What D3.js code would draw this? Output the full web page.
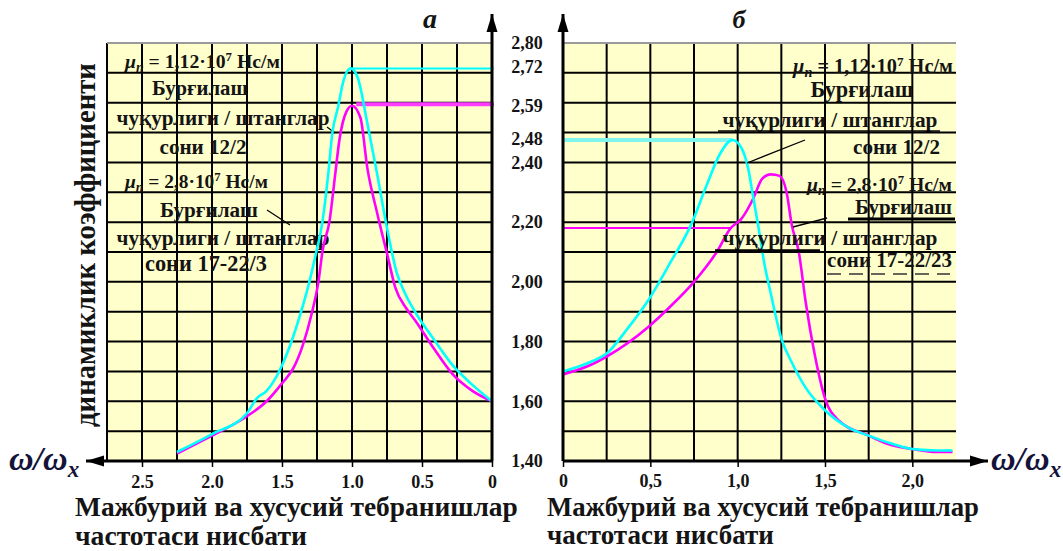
<!DOCTYPE html>
<html>
<head>
<meta charset="utf-8">
<script src="https://cdn.jsdelivr.net/npm/d3@7"></script>
<style>
  body { margin: 0; background: #fff; }
  svg text { font-family: "Liberation Serif", "Times New Roman", serif; font-weight: bold; fill: #141414; }
</style>
</head>
<body>
<svg id="chart" width="1063" height="551"></svg>
<script>
// ---- data ----
// panel a (left): frequency ratio runs 2.25 -> 0
const leftCyanRatio = [2.25, 2.0, 1.75, 1.68, 1.61, 1.51, 1.44, 1.37, 1.31, 1.26, 1.21, 1.17, 1.14, 1.10, 1.06, 1.01, 0.96, 0.89, 0.82, 0.75, 0.68, 0.62, 0.53, 0.45, 0.39, 0.28, 0.14, 0]
const leftCyanK     = [1.43, 1.49, 1.56, 1.61, 1.635, 1.71, 1.79, 1.89, 1.99, 2.09, 2.205, 2.36, 2.50, 2.585, 2.675, 2.715, 2.685, 2.53, 2.36, 2.18, 2.03, 1.96, 1.885, 1.83, 1.79, 1.72, 1.655, 1.60]
const leftMagRatio  = [2.25, 2.0, 1.75, 1.61, 1.50, 1.42, 1.35, 1.29, 1.24, 1.21, 1.16, 1.12, 1.09, 1.04, 1.0, 0.94, 0.89, 0.82, 0.75, 0.69, 0.61, 0.54, 0.42, 0.28, 0.14, 0]
const leftMagK      = [1.425, 1.485, 1.55, 1.60, 1.66, 1.71, 1.79, 1.89, 2.00, 2.105, 2.205, 2.36, 2.475, 2.57, 2.59, 2.55, 2.38, 2.23, 2.095, 1.98, 1.91, 1.865, 1.78, 1.69, 1.635, 1.60]
const leftPeaks     = [{ k: 2.715, from: 1.0, color: '#00ffff', w: 2 }, { k: 2.595, from: 0.97, color: '#ff3cff', w: 4 }]

// panel б (right): frequency ratio runs 0 -> 2.23
const rightCyanRatio = [0, 0.17, 0.25, 0.365, 0.49, 0.61, 0.74, 0.82, 0.90, 0.97, 1.02, 1.06, 1.09, 1.12, 1.15, 1.19, 1.25, 1.31, 1.39, 1.50, 1.64, 1.75, 1.87, 2.0, 2.15, 2.23]
const rightCyanK     = [1.70, 1.735, 1.76, 1.84, 1.94, 2.06, 2.20, 2.32, 2.43, 2.475, 2.45, 2.38, 2.28, 2.18, 2.07, 1.96, 1.81, 1.73, 1.645, 1.57, 1.51, 1.485, 1.46, 1.44, 1.435, 1.435]
const rightMagRatio  = [0, 0.17, 0.25, 0.49, 0.61, 0.75, 0.88, 0.96, 1.02, 1.09, 1.14, 1.19, 1.24, 1.28, 1.31, 1.35, 1.39, 1.44, 1.50, 1.58, 1.75, 1.87, 2.0, 2.14, 2.23]
const rightMagK      = [1.69, 1.725, 1.75, 1.85, 1.915, 2.00, 2.10, 2.18, 2.21, 2.28, 2.345, 2.36, 2.355, 2.30, 2.19, 2.10, 1.93, 1.76, 1.61, 1.535, 1.485, 1.455, 1.44, 1.43, 1.43]
const rightPeaks     = [{ k: 2.475, to: 0.97, color: '#7ff5ee', w: 4 }, { k: 2.18, to: 0.96, color: '#ff00ff', w: 2 }]

const yTicks = [1.40, 1.60, 1.80, 2.00, 2.20, 2.40, 2.48, 2.59, 2.72, 2.80]
const leftTicks = [2.5, 2.0, 1.5, 1.0, 0.5, 0]
const rightTicks = [0, 0.5, 1.0, 1.5, 2.0]

const svg = d3.select('#chart')
const yTop = 43, yBot = 461
const y = d3.scaleLinear().domain([1.4, 2.8]).range([yBot, yTop])
const xL = d3.scaleLinear().domain([2.75, 0]).range([107, 492])
const xR = d3.scaleLinear().domain([0, 2.25]).range([563, 956])
const rows = d3.range(1, 14).map(i => 1.4 + i * 0.1)

// scale font so the text spans the wanted width
function fit (sel, width) {
  const len = sel.node().getComputedTextLength()
  const fs = parseFloat(sel.attr('font-size'))
  sel.attr('font-size', fs * width / len)
  return sel
}

function muText (g, x, yy, value, anchor, width) {
  const t = g.append('text').attr('x', x).attr('y', yy).attr('font-size', 19).attr('text-anchor', anchor)
  t.append('tspan').attr('font-style', 'italic').text('μ')
  t.append('tspan').attr('dy', 4).attr('font-size', '0.7em').attr('font-style', 'italic').text('п')
  t.append('tspan').attr('dy', -4).text(' = ' + value + '·10')
  t.append('tspan').attr('dy', -7).attr('font-size', '0.65em').text('7')
  t.append('tspan').attr('dy', 7).text(' Нс/м')
  fit(t, width)
}

function label (g, x, yy, str, anchor, width, size) {
  const t = g.append('text').attr('x', x).attr('y', yy).attr('font-size', size || 21)
    .attr('text-anchor', anchor).text(str)
  if (width) fit(t, width)
  return t
}

function arrow (x1, y1, x2, y2) {
  svg.append('line').attr('x1', x1).attr('y1', y1).attr('x2', x2).attr('y2', y2)
    .attr('stroke', '#000').attr('stroke-width', 3)
  const a = Math.atan2(y2 - y1, x2 - x1)
  const L = 18, hw = 5.5
  const bx = x2 - L * Math.cos(a), by = y2 - L * Math.sin(a)
  svg.append('path')
    .attr('d', `M${x2},${y2}L${bx - hw * Math.sin(a)},${by + hw * Math.cos(a)}L${bx + hw * Math.sin(a)},${by - hw * Math.cos(a)}Z`)
    .attr('fill', '#000')
}

const line = x => d3.line().x(d => x(d[0])).y(d => y(d[1])).curve(d3.curveMonotoneX)

// ---------- panel a ----------
const gl = svg.append('g')
gl.append('rect').attr('x', xL(2.75)).attr('y', yTop).attr('width', xL(0) - xL(2.75)).attr('height', yBot - yTop).attr('fill', '#ffffcc')
gl.selectAll('.vg').data(d3.range(0, 2.76, 0.25)).enter().append('line')
  .attr('x1', d => xL(d)).attr('x2', d => xL(d)).attr('y1', yTop).attr('y2', yBot)
  .attr('stroke', '#000').attr('stroke-width', 2)
gl.selectAll('.hg').data(rows).enter().append('line')
  .attr('x1', xL(2.75)).attr('x2', xL(0)).attr('y1', d => y(d)).attr('y2', d => y(d))
  .attr('stroke', '#000').attr('stroke-width', 2)
gl.append('line').attr('x1', xL(2.75)).attr('x2', xL(0)).attr('y1', yTop).attr('y2', yTop).attr('stroke', '#9a9a9a').attr('stroke-width', 2)

// annotations of panel a
muText(gl, 125, 68, '1,12', 'start', 155)
label(gl, 200, 95, 'Бурғилаш', 'middle', 96)
label(gl, 223, 125, 'чуқурлиги / штанглар', 'middle', 213)
label(gl, 203, 154, 'сони 12/2', 'middle', 87)
muText(gl, 125, 188, '2,8', 'start', 143)
label(gl, 209, 217, 'Бурғилаш', 'middle', 98)
label(gl, 223, 245, 'чуқурлиги / штанглар', 'middle', 213)
label(gl, 206, 271, 'сони 17-22/3', 'middle', 122)
gl.append('path').attr('d', 'M327,127L335,133').attr('stroke', '#000').attr('stroke-width', 1.2)
gl.append('path').attr('d', 'M267,210L290,225').attr('stroke', '#000').attr('stroke-width', 1.2)

leftPeaks.forEach(p => {
  gl.append('line').attr('x1', xL(p.from)).attr('x2', xL(0) + 2).attr('y1', y(p.k)).attr('y2', y(p.k))
    .attr('stroke', p.color).attr('stroke-width', p.w)
})
gl.append('path').datum(d3.zip(leftMagRatio, leftMagK)).attr('d', line(xL))
  .attr('fill', 'none').attr('stroke', '#ff00ff').attr('stroke-width', 2.6)
gl.append('path').datum(d3.zip(leftCyanRatio, leftCyanK)).attr('d', line(xL))
  .attr('fill', 'none').attr('stroke', '#00ffff').attr('stroke-width', 2.6)

// ---------- panel б ----------
const gr = svg.append('g')
gr.append('rect').attr('x', xR(0)).attr('y', yTop).attr('width', xR(2.25) - xR(0)).attr('height', yBot - yTop).attr('fill', '#ffffcc')
gr.selectAll('.vg').data(d3.range(0, 2.01, 0.25)).enter().append('line')
  .attr('x1', d => xR(d)).attr('x2', d => xR(d)).attr('y1', yTop).attr('y2', yBot)
  .attr('stroke', '#000').attr('stroke-width', 2)
gr.selectAll('.hg').data(rows).enter().append('line')
  .attr('x1', xR(0)).attr('x2', xR(2.25)).attr('y1', d => y(d)).attr('y2', d => y(d))
  .attr('stroke', '#000').attr('stroke-width', 2)
gr.append('line').attr('x1', xR(0)).attr('x2', xR(2.25)).attr('y1', yTop).attr('y2', yTop).attr('stroke', '#9a9a9a').attr('stroke-width', 2)

rightPeaks.forEach(p => {
  gr.append('line').attr('x1', xR(0)).attr('x2', xR(p.to)).attr('y1', y(p.k)).attr('y2', y(p.k))
    .attr('stroke', p.color).attr('stroke-width', p.w)
})
gr.append('path').datum(d3.zip(rightMagRatio, rightMagK)).attr('d', line(xR))
  .attr('fill', 'none').attr('stroke', '#ff00ff').attr('stroke-width', 2.6)
gr.append('path').datum(d3.zip(rightCyanRatio, rightCyanK)).attr('d', line(xR))
  .attr('fill', 'none').attr('stroke', '#00ffff').attr('stroke-width', 2.6)

// annotations of panel б
muText(gr, 953, 73, '1,12', 'end', 160)
label(gr, 862, 97, 'Бурғилаш', 'middle', 103)
label(gr, 830, 127, 'чуқурлиги / штанглар', 'middle', 215)
label(gr, 940, 154, 'сони 12/2', 'end', 87)
muText(gr, 952, 191, '2,8', 'end', 145)
label(gr, 952, 214, 'Бурғилаш', 'end', 97)
label(gr, 830, 245, 'чуқурлиги / штанглар', 'middle', 215)
label(gr, 952, 267, 'сони 17-22/23', 'end', 125)
gr.append('path').attr('d', 'M718,131L940,131').attr('stroke', '#000').attr('stroke-width', 1.5)
gr.append('path').attr('d', 'M848,219L955,219').attr('stroke', '#000').attr('stroke-width', 3)
gr.append('path').attr('d', 'M715,251L820,251').attr('stroke', '#000').attr('stroke-width', 3.5)
gr.append('path').attr('d', 'M827,274L950,274').attr('stroke', '#333').attr('stroke-width', 1.5).attr('stroke-dasharray', '14,8')
gr.append('path').attr('d', 'M747,163L805,140').attr('stroke', '#000').attr('stroke-width', 1.3)
gr.append('path').attr('d', 'M793,227L827,218').attr('stroke', '#000').attr('stroke-width', 1.3)

// ---------- axes ----------
arrow(492, yBot, 492, 14)
arrow(563, yBot, 563, 14)
arrow(492, yBot, 86, yBot)
arrow(563, yBot, 988, yBot)

const axL = svg.append('g').attr('transform', `translate(0,${yBot})`)
  .call(d3.axisBottom(xL).tickValues(leftTicks).tickFormat(d3.format('.1~f')).tickSize(6).tickPadding(8).tickSizeOuter(0))
axL.select('.domain').remove()
axL.selectAll('.tick line').attr('stroke', '#000').attr('stroke-width', 1.5)
axL.selectAll('.tick text').attr('font-size', 18).attr('fill', '#141414')
  .text(d => d === 0 ? '0' : d3.format('.1f')(d))

const axR = svg.append('g').attr('transform', `translate(0,${yBot})`)
  .call(d3.axisBottom(xR).tickValues(rightTicks).tickSize(6).tickPadding(7).tickSizeOuter(0)
    .tickFormat(d => d === 0 ? '0' : d3.format('.1f')(d).replace('.', ',')))
axR.select('.domain').remove()
axR.selectAll('.tick line').attr('stroke', '#000').attr('stroke-width', 1.5)
axR.selectAll('.tick text').attr('font-size', 18).attr('fill', '#141414')

const axY = svg.append('g').attr('transform', 'translate(527,0)')
  .call(d3.axisRight(y).tickValues(yTicks).tickSize(0).tickPadding(0)
    .tickFormat(d => d3.format('.2f')(d).replace('.', ',')))
axY.select('.domain').remove()
axY.selectAll('.tick text').attr('font-size', 18).attr('fill', '#141414').attr('text-anchor', 'middle').attr('x', 0)

// ---------- titles ----------
svg.append('text').attr('x', 430).attr('y', 28).attr('font-size', 28).attr('font-style', 'italic').attr('text-anchor', 'middle').text('а')
svg.append('text').attr('x', 739).attr('y', 28).attr('font-size', 26).attr('font-style', 'italic').attr('text-anchor', 'middle').text('б')

const yl = svg.append('text').attr('transform', 'translate(95,245) rotate(-90)')
  .attr('font-size', 28).attr('text-anchor', 'middle').text('динамиклик коэффициенти')
fit(yl, 364)

function omega (x, yy) {
  const t = svg.append('text').attr('x', x).attr('y', yy).attr('font-size', 34)
    .attr('font-style', 'italic').attr('font-weight', 'normal').style('fill', '#14143a')
  t.append('tspan').text('ω/ω')
  t.append('tspan').attr('dy', 7).attr('font-size', 23).text('x')
}
omega(9, 470)
omega(991, 470)

label(svg, 75, 516, 'Мажбурий ва хусусий тебранишлар', 'start', 443, 26)
label(svg, 75, 545, 'частотаси нисбати', 'start', 232, 26)
label(svg, 547, 516, 'Мажбурий ва хусусий тебранишлар', 'start', 432, 26)
label(svg, 547, 544, 'частотаси нисбати', 'start', 227, 26)
</script>
</body>
</html>
